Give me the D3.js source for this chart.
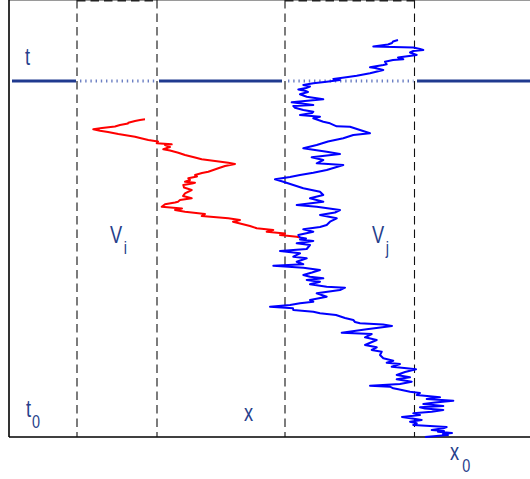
<!DOCTYPE html>
<html>
<head>
<meta charset="utf-8">
<script src="https://cdn.jsdelivr.net/npm/d3@7/dist/d3.min.js"></script>
<style>
  html, body { margin: 0; padding: 0; background: #fff; }
  svg { display: block; }
  text { font-family: "Liberation Sans", Arial, sans-serif; fill: #27408b; }
</style>
</head>
<body>
<svg id="chart" width="530" height="479"></svg>
<script>
// Sample path of the j-particle: [position, time], from t0 upward
const bluePath = [
  [425,0],[448,2],[443,3],[452,4],[438,5.3],[444,6],[431.7,7],[443.3,8.7],[446.7,10],[430,11],[413.3,12],
  [416.7,13.7],[410,15.3],[421.7,17],[414,18.2],[402,20],[420,22],[413.3,23.7],[431.7,25.3],[443.3,27],[425,28.5],[420,29.7],
  [443.3,31],[423.3,33],[435,34.5],[453.3,36.3],[426.7,38],[440,39.7],[416.7,42],[420,44],[410,45.3],[398.3,47.7],
  [393.3,48.7],[390,50.3],[370,51.3],[400,53],[411.7,55.3],[396.7,57.7],[410,59.7],[396.7,62],[405,65],[416,67.7],
  [406.7,68.7],[391.7,70.3],[400,73],[386.7,74.3],[393.3,76.3],[383.3,78.7],[380,82],[381.7,85.3],[371.7,87],[376.7,89.7],
  [365,92],[372,95],[376.7,97],[365,99.7],[371.7,103],[341.7,104.3],[366.7,107.7],[392,111],[383,112.5],[360,113.7],
  [355,115],[353.3,117],[345,119],[336,122],[320,123.7],[313.3,125.3],[293.3,127],[293,128.7],[270,130.2],[290,132],
  [300,133.7],[313.3,135.3],[310,137],[326.7,140.3],[316.7,143.7],[340,147],[345,149.3],[326.7,150.3],[310,152.7],[320,155.3],
  [306.7,157],[323.3,158.7],[310,160.3],[303.3,162],[312,164.5],[320,167],[303.3,169.3],[273.3,171.3],[303.3,172.7],[296.7,175.3],
  [306.7,178.7],[293.3,180.3],[300,183.7],[280,186],[306.7,188],[310,192],[296.7,193.7],[313.3,196],[300,197.5],[306,198.4],[300,199.5],
  [298.3,202],[313.3,205.3],[303.3,207.7],[320,210],[326.7,212],[330,215.3],[336.7,218.7],[320,222],[335,224.5],[340,227],
  [316.7,230.3],[296.7,232],[323.3,235.3],[310,238.7],[323.3,242],[320,245.3],[303.3,248.7],[293.3,252],[283.3,255.3],[275,257.7],
  [290,260],[300,262],[313.3,264.3],[326.7,267],[335,269.5],[343.3,272],[316.7,273.7],[323.3,277],[311.7,279.7],[340,283],
  [326.7,285.3],[303.3,288.7],[316.7,292],[328,295.5],[343.3,298.7],[353.3,302],[370,303.7],[360,307],[350,310.3],[336.7,310.7],
  [330,313.7],[323.3,315.3],[313.3,318.7],[320,320.3],[300,322],[312,324],[313.3,325.3],[303.3,327],[295,329.3],[293.3,331],
  [313.3,332],[291.7,334.7],[323.3,337.7],[306.7,340.3],[300,342.7],[308,345],[305,346.3],[298.3,347.5],[306,349],[310,350.5],
  [303.3,352],[313.3,353.7],[326.7,355.3],[340,357],[333.3,358],[348,360],[356.7,361.3],[370,363.7],[383.3,367],[375,369],
  [370,369.7],[383.3,372],[386.7,372.7],[385,375.3],[393,377],[403.3,377.7],[398,379.5],[416.7,382],[410,384.5],[413.3,386],
  [423.3,387],[420,388],[413.3,389.5],[373.3,390.5],[388,392.5],[392,394],[393,395.5],[398,397]
];

// Sample path of the i-particle: [position, time], from the meeting point upward
const redPath = [
  [300,199.5],[296.7,200.3],[280,202],[285,203.5],[266.7,205.3],[273.3,207],[256.7,208.7],[250,211],[233,215.3],[240,217],
  [228.3,218.7],[201.7,221],[205,223],[185,225.3],[175,227],[182,228.5],[161.7,230.3],[165,232.7],[175,234.5],[178,235.3],
  [180,237],[191.7,238.7],[183,241],[185,243.7],[191.7,247],[184,249.5],[183.3,252],[192,253.5],[195,254.3],[185,255.3],
  [190,257],[188.3,258.7],[197,260.5],[195,262],[202,264],[208.3,265.3],[218.3,268.7],[225,271],[235,273],[228.3,274.3],
  [215,276],[201.7,277.7],[195,279.5],[185,282],[178.3,284.3],[170,286.5],[163.3,287.7],[170,290],[165,292],[171.7,292.7],
  [156.7,293.7],[158,295.5],[148.3,297],[140,299],[135,300.3],[118.3,303],[108,305],[100,306.3],[93.3,307.7],[102,309],
  [115,310.5],[120,312],[128,313.5],[128.3,314.3],[135,316],[140,317],[145,317.7]
];

// Regions V_i and V_j as [left, right] in position units
const regions = [[77, 157], [285, 414.5]];
const regionLabels = [["V", "i"], ["V", "j"]];
const regionLabelPos = [[110, 243], [372, 243]];

// Observation time t and axis extents
const tLevel = 356;
const spaceDomain = [0, 530];
const timeDomain = [0, 437];

const svg = d3.select("#chart");
const x = d3.scaleLinear().domain(spaceDomain).range([0, 530]);
const y = d3.scaleLinear().domain(timeDomain).range([437, 0]);
const x0px = x(9);

// Frame: left axis, bottom axis (t0) and thin top edge
svg.append("line").attr("x1", x0px).attr("x2", 530).attr("y1", 0.5).attr("y2", 0.5)
  .attr("stroke", "#9a9a9a").attr("stroke-width", 1);
svg.append("line").attr("x1", x0px).attr("x2", x0px).attr("y1", 0).attr("y2", y(0))
  .attr("stroke", "#000").attr("stroke-width", 1.6);
svg.append("line").attr("x1", x0px).attr("x2", 530).attr("y1", y(0)).attr("y2", y(0))
  .attr("stroke", "#000").attr("stroke-width", 1.6);

// Dashed boundaries of V_i and V_j
regions.forEach(([a, b]) => {
  [a, b].forEach(v => {
    svg.append("line").attr("x1", x(v)).attr("x2", x(v)).attr("y1", y(timeDomain[1])).attr("y2", y(0))
      .attr("stroke", "#111").attr("stroke-width", 1.1).attr("stroke-dasharray", "8.5,5");
  });
  svg.append("line").attr("x1", x(a)).attr("x2", x(b)).attr("y1", 0.8).attr("y2", 0.8)
    .attr("stroke", "#222").attr("stroke-width", 1.4).attr("stroke-dasharray", "8.5,5");
});

// Horizontal line at time t: solid outside the regions, dotted inside
const tY = y(tLevel);
const solidSpans = [[12, 76], [159, 282], [417, 530]];
solidSpans.forEach(([a, b]) => {
  svg.append("line").attr("x1", x(a)).attr("x2", x(b)).attr("y1", tY).attr("y2", tY)
    .attr("stroke", "#203a8f").attr("stroke-width", 3);
});
regions.forEach(([a, b]) => {
  svg.append("line").attr("x1", x(a + 3)).attr("x2", x(b - 1)).attr("y1", tY).attr("y2", tY)
    .attr("stroke", "#6d80c4").attr("stroke-width", 3).attr("stroke-dasharray", "1.4,3.8");
});

// Sample paths
const line = d3.line().x(d => x(d[0])).y(d => y(d[1]));
svg.append("path").datum(redPath).attr("d", line)
  .attr("fill", "none").attr("stroke", "#ff0000").attr("stroke-width", 2).attr("stroke-linejoin", "round");
svg.append("path").datum(bluePath).attr("d", line)
  .attr("fill", "none").attr("stroke", "#0000ff").attr("stroke-width", 2).attr("stroke-linejoin", "round");

// Labels (narrow sans)
function label(px, py, main, sub, subDx, subDy) {
  const g = svg.append("g").attr("transform", `translate(${px},${py}) scale(0.76,1)`);
  g.append("text").attr("x", 0).attr("y", 0).attr("font-size", 24).text(main);
  if (sub) {
    g.append("text").attr("x", subDx).attr("y", subDy).attr("font-size", 19).text(sub);
  }
}
label(25, 65, "t");
label(26, 417, "t", "0", 8, 11);
label(244, 421, "x");
label(450, 460, "x", "0", 16, 12);
regionLabels.forEach((l, i) => {
  label(regionLabelPos[i][0], regionLabelPos[i][1], l[0], l[1], 18, 11);
});
</script>
</body>
</html>
